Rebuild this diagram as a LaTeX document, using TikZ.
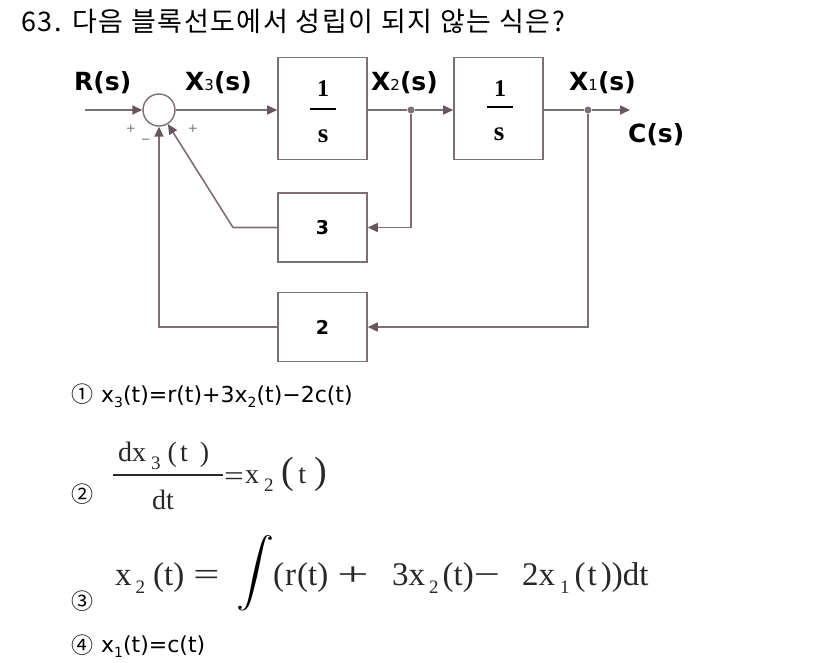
\documentclass[tikz,border=0pt]{standalone}
\usepackage{fontspec}
\usetikzlibrary{arrows.meta}
\newfontfamily\kr{Noto Sans CJK KR}
\newfontfamily\krt{Noto Sans CJK KR}[LetterSpace=6]
\newfontfamily\lab{DejaVu Sans}
\newfontfamily\tms{Liberation Serif}
\definecolor{ln}{RGB}{125,110,120}
\definecolor{tip}{RGB}{105,85,95}
\definecolor{eqc}{RGB}{40,40,40}
\newcommand\sbs[1]{\raisebox{-5pt}{\fontsize{14}{14}\selectfont #1}}
\newcommand\msb[1]{\raisebox{-8pt}{\fontsize{19}{19}\selectfont #1}}
\tikzset{
  blk/.style={draw=ln,line width=1.6pt,minimum width=89pt,inner sep=0pt},
  wire/.style={draw=ln,line width=1.6pt},
  arr/.style={wire,-{Triangle[length=10pt,width=9pt,color=tip]}},
  lbl/.style={font=\lab\bfseries\fontsize{25}{25}\selectfont,inner sep=0pt,anchor=base west},
  sgn/.style={font=\lab\fontsize{12}{12}\selectfont,inner sep=0pt,text=ln},
  dotn/.style={circle,fill=ln,minimum size=7pt,inner sep=0pt},
  one/.style={font=\tms\bfseries\fontsize{24}{24}\selectfont,inner sep=0pt,anchor=base},
  ess/.style={font=\tms\bfseries\fontsize{27}{27}\selectfont,inner sep=0pt,anchor=base},
  opt/.style={font=\lab\fontsize{22}{22}\selectfont,inner sep=0pt,anchor=base west},
  cir/.style={font=\kr\fontsize{22}{22}\selectfont,inner sep=0pt},
  eq/.style={font=\tms\fontsize{33}{33}\selectfont,inner sep=0pt,anchor=base west,text=eqc},
  eqb/.style={font=\tms\fontsize{28}{28}\selectfont,inner sep=0pt,anchor=base west,text=eqc},
}
\begin{document}
\begin{tikzpicture}[x=1pt,y=-1pt]
\useasboundingbox (0,0) rectangle (826,662);
\fill[white] (0,0) rectangle (826,662);
% title
\node[font=\krt\fontsize{27}{27}\selectfont,anchor=base west,inner sep=0pt] (title) at (21,31) {63. 다음 블록선도에서 성립이 되지 않는 식은?};
% blocks
\node[circle,draw=ln,line width=1.4pt,minimum size=32pt,inner sep=0pt] (sum) at (159,110) {};
\node[blk,minimum height=102pt] (b1) at (322.5,108.5) {};
\node[blk,minimum height=102pt] (b2) at (498.5,108.5) {};
\node[one] (n1) at (323,96) {1};
\node[ess] (s1) at (323,142) {s};
\draw[draw=black,line width=1.8pt] (310,109) -- (336,109);
\node[one] (n2) at (500,96) {1};
\node[ess] (s2) at (499,140) {s};
\draw[draw=black,line width=1.8pt] (487,107) -- (513,107);
\node[blk,minimum height=69pt,font=\lab\bfseries\fontsize{19}{19}\selectfont] (b3) at (322.5,227.5) {3};
\node[blk,minimum height=69pt,font=\lab\bfseries\fontsize{19}{19}\selectfont] (b4) at (322.5,327) {2};
\coordinate (in) at (85,110);
\node[dotn] (d2) at (411,110) {};
\node[dotn] (d1) at (588,110) {};
\coordinate (out) at (630,110);
\coordinate (k) at (233,227.5);
% connectors
\draw[arr] (in) -- (sum);
\draw[arr] (sum) -- (b1.west |- sum);
\draw[wire] (b1.east |- d2) -- (d2);
\draw[arr] (d2) -- (b2.west |- d2);
\draw[wire] (b2.east |- d1) -- (d1);
\draw[arr] (d1) -- (out);
\draw[arr] (d2) |- (b3);
\draw[arr] (b3.west) -- (k) -- (sum);
\draw[arr] (d1) |- (b4);
\draw[arr] (b4.west) -| (sum.south);
% labels
\node[lbl] (lr) at (74,90) {R(s)};
\node[lbl] (lx3) at (185,90) {X{\mdseries\fontsize{15}{15}\selectfont 3}(s)};
\node[lbl] (lx2) at (371,90) {X{\mdseries\fontsize{15}{15}\selectfont 2}(s)};
\node[lbl] (lx1) at (569,90) {X{\mdseries\fontsize{15}{15}\selectfont 1}(s)};
\node[lbl] (lc) at (628,142) {C(s)};
\node[sgn] (p1) at (131,129) {+};
\node[sgn] (m1) at (146,141) {\textminus};
\node[sgn] (p2) at (193,129) {+};
% option 1
\node[cir] (c1) at (82,394) {①};
\node[opt] (o1) at (101,402) {x\sbs{3}(t)=r(t)+3x\sbs{2}(t)\textminus2c(t)};
% option 2
\node[cir] (c2) at (82,494) {②};
\node[eqb] (num) at (118,461) {dx\hspace{5pt}\msb{3}\hspace{7pt}(\hspace{3pt}t\hspace{12pt})};
\node[eqb] (den) at (152,509) {dt};
\draw[draw=eqc,line width=1.6pt] (113,475) -- (223,475);
\node[eqb] (eq2) at (224,485) {\scalebox{1.25}[1]{=}};
\node[eqb] (r2) at (245,483) {x\hspace{5pt}\msb{2}\hspace{8pt}{\fontsize{38}{38}\selectfont(}\hspace{4pt}t\hspace{8pt}{\fontsize{38}{38}\selectfont)}};
% option 3
\node[cir] (c3) at (82,601) {③};
\node[eq] (l3) at (115,585) {x\hspace{4pt}\msb{2}\hspace{8pt}(t)\hspace{9pt}\scalebox{1.4}[1]{=}};
\node[inner sep=0pt,text=black] (int) at (255,573) {\scalebox{3.8}[3.4]{$\displaystyle\int$}};
\node[eq] (r3a) at (273,585) {(\hspace{1pt}r\hspace{1pt}(t)};
\node[eq] (r3b) at (337,585) {\scalebox{1.7}[1]{+}};
\node[eq] (r3c) at (392,585) {3x\hspace{4pt}\msb{2}\hspace{4pt}(t)\scalebox{1.4}[1]{\textminus}};
\node[eq] (r3d) at (522,585) {2x\hspace{5pt}\msb{1}\hspace{5pt}(\hspace{2pt}t\hspace{4pt}))dt};
% option 4
\node[cir] (c4) at (82,645) {④};
\node[opt] (o4) at (101,652) {x\sbs{1}(t)=c(t)};
\end{tikzpicture}
\end{document}
